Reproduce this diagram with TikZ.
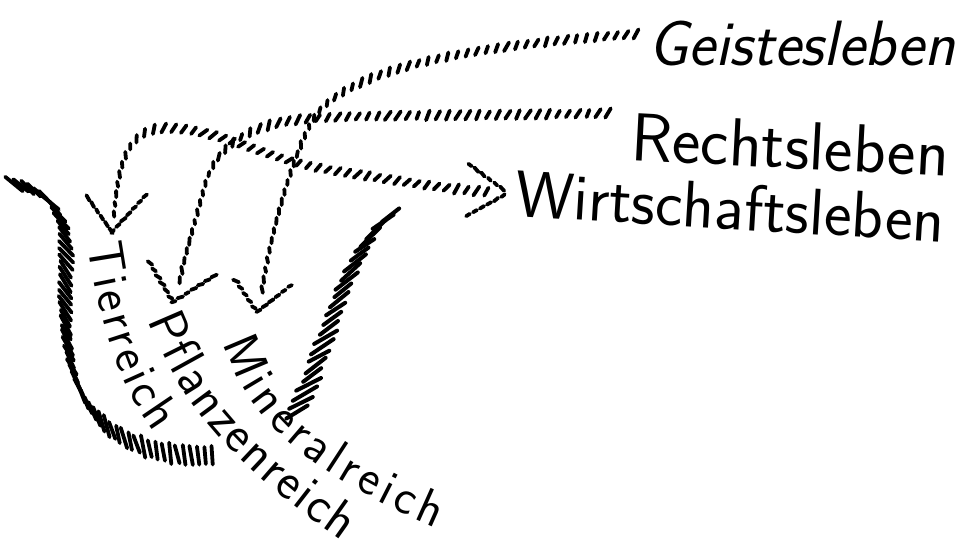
\documentclass[tikz,border=0pt]{standalone}
\usetikzlibrary{decorations.markings,decorations.text}

% one short pen stroke of a thin hatched line; its angle follows the tangent
\newcommand\hkThin{%
  \pgfgettransformentries{\hkA}{\hkB}{\hkC}{\hkD}{\hkX}{\hkY}%
  \pgfmathsetmacro\hkT{atan2(\hkB,\hkA)}%
  \pgfmathsetmacro\hkS{\hkT+60*cos(\hkT)^2+14*sin(\hkT)^2+9*rand}%
  \pgfmathsetmacro\hkL{4.6-1.8*sin(\hkT)^2+0.8*rand}%
  \pgftransformresetnontranslations
  \pgfsetlinewidth{3.8pt}\pgfsetroundcap
  \pgfpathmoveto{\pgfpointpolar{\hkS}{-\hkL pt}}%
  \pgfpathlineto{\pgfpointpolar{\hkS}{\hkL pt}}%
  \pgfusepath{stroke}}
% stroke of an arrow-head arm, at a fixed angle to the arm
\newcommand\hkAlong[1]{%
  \pgfmathsetmacro\hkS{#1+8*rand}%
  \pgfmathsetmacro\hkL{2.6+0.6*rand}%
  \pgfsetlinewidth{3.8pt}\pgfsetroundcap
  \pgfpathmoveto{\pgfpointpolar{\hkS}{-\hkL pt}}%
  \pgfpathlineto{\pgfpointpolar{\hkS}{\hkL pt}}%
  \pgfusepath{stroke}}
% stroke of the broad band; angle interpolated from #1 to #2, half length #3, width #4
\newcommand\hkBand[4]{%
  \pgfmathsetmacro\hkF{(\pgfkeysvalueof{/pgf/decoration/mark info/distance from start})/(\pgfdecoratedpathlength)}%
  \pgfmathsetmacro\hkS{(#1)+((#2)-(#1))*\hkF+6*rand}%
  \pgfmathsetmacro\hkL{(#3)*(1+0.15*rand)}%
  \pgftransformresetnontranslations
  \pgfsetlinewidth{#4}\pgfsetroundcap
  \pgfpathmoveto{\pgfpointpolar{\hkS}{-\hkL pt}}%
  \pgfpathlineto{\pgfpointpolar{\hkS}{\hkL pt}}%
  \pgfusepath{stroke}}

\tikzset{
  thinhatch/.style={decoration={markings,mark=between positions 0 and 1 step 10pt with {\hkThin}},decorate},
  headhatch/.style={decoration={markings,mark=between positions 0 and 1 step 8pt with {\hkAlong{#1}}},decorate},
  headhatch/.default=10,
  bandhatch/.style n args={5}{decoration={markings,mark=between positions 0 and 1 step #1 with {\hkBand{#2}{#3}{#4}{#5}}},decorate},
  bigword/.style={font=\sffamily\fontsize{66}{66}\selectfont, inner sep=0pt, anchor=base west},
  curvedword/.style 2 args={decorate, decoration={text along path, text align={fit to path},
     text={|\sffamily\fontsize{#1}{#1}\selectfont|#2}}},
}

\begin{document}
\begin{tikzpicture}[x=1pt,y=-1pt]
\pgfmathsetseed{4}
\useasboundingbox (0,0) rectangle (964,551);

% ---- labels on the right
\node[bigword, font=\sffamily\itshape\fontsize{64}{64}\selectfont] (geist) at (648,66) {Geistesleben};
\node[bigword, font=\sffamily\fontsize{68}{68}\selectfont, rotate=-3] (recht) at (630,160) {Rechtsleben};
\node[bigword, rotate=-3.5] (wirt) at (514,216) {Wirtschaftsleben};

% ---- curved labels of the three kingdoms
\path[curvedword={50}{Tierreich}]
  (88,244) .. controls (98,315) and (118,385) .. (154,432);
\path[curvedword={52}{Pflanzenreich}]
  (148,320) .. controls (178,395) and (218,455) .. (342,541);
\path[curvedword={50}{Mineralreich}]
  (223,343) .. controls (248,418) and (298,468) .. (436,528);

% ---- end points
\coordinate (gS) at (636,34);
\coordinate (gE) at (261,297);
\coordinate (gT) at (257,312);
\coordinate (gA) at (236,281);
\coordinate (gB) at (290,286);

\coordinate (rS) at (608,113);
\coordinate (rE) at (178,288);
\coordinate (rT) at (173,302);
\coordinate (rA) at (150,263);
\coordinate (rB) at (214,276);

\coordinate (wLs) at (114,214);
\coordinate (wL) at (112,232);
\coordinate (wLa) at (88,198);
\coordinate (wLb) at (145,196);
\coordinate (wRs) at (492,192);
\coordinate (wR) at (508,193);
\coordinate (wRa) at (470,165);
\coordinate (wRb) at (468,215);

% ---- Geistesleben -> Mineralreich
\path[thinhatch] (gS) .. controls (480,45) and (360,65) .. (318,112)
  .. controls (300,135) and (272,220) .. (gE);
\path[headhatch=25] (gA) -- (gT);
\path[headhatch=-10] (gB) -- (gT);

% ---- Rechtsleben -> Pflanzenreich
\path[thinhatch] (rS) .. controls (450,117) and (330,113) .. (282,122)
  .. controls (240,131) and (215,150) .. (205,185)
  .. controls (195,222) and (184,258) .. (rE);
\path[headhatch=25] (rA) -- (rT);
\path[headhatch=-10] (rB) -- (rT);

% ---- Tierreich <-> Wirtschaftsleben
\path[thinhatch] (wLs) .. controls (118,170) and (125,128) .. (165,128)
  .. controls (220,128) and (260,158) .. (330,170)
  .. controls (400,181) and (450,190) .. (wRs);
\path[headhatch=0] (wLa) -- (wL);
\path[headhatch=-7] (wLb) -- (wL);
\path[headhatch=-8] (wRa) -- (wR);
\path[headhatch=8] (wRb) -- (wR);

% ---- broad hatched band round the kingdoms
\path[bandhatch={7pt}{-40}{-84}{10}{3.8pt}] (14,184) .. controls (50,190) and (68,215) .. (66,260)
  .. controls (64,320) and (62,380) .. (100,420)
  .. controls (130,450) and (175,458) .. (215,455);
\path[bandhatch={10pt}{30}{40}{12.5}{4pt}] (297,412) .. controls (330,340) and (345,250) .. (392,214);
\end{tikzpicture}
\end{document}
